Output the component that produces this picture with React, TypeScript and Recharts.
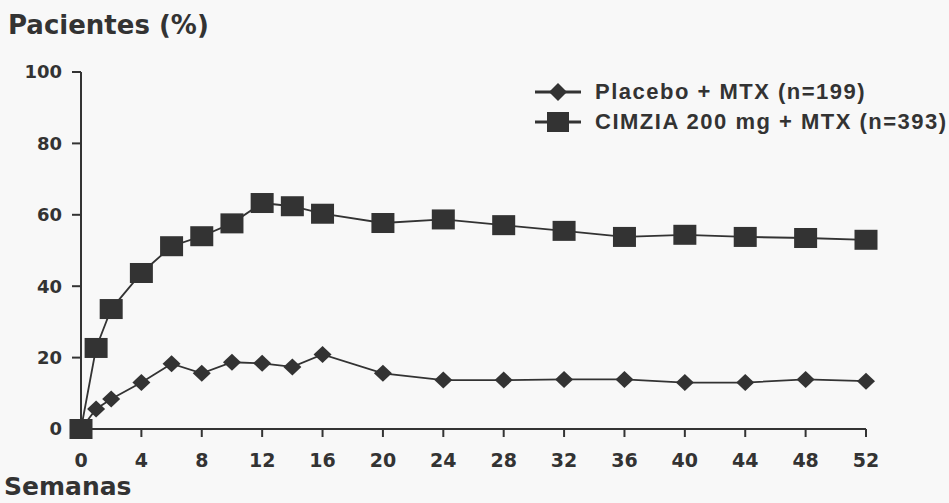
import React from 'react';
import { LineChart, Line, XAxis, YAxis, Legend } from 'recharts';

const weeks = [0, 1, 2, 4, 6, 8, 10, 12, 14, 16, 20, 24, 28, 32, 36, 40, 44, 48, 52];
const placebo = [0, 5.6, 8.4, 13, 18.3, 15.6, 18.7, 18.4, 17.4, 20.9, 15.6, 13.7, 13.7, 13.9, 13.9, 13, 13, 13.9, 13.4];
const cimzia = [0, 22.7, 33.6, 43.7, 51.2, 54, 57.6, 63.3, 62.4, 60.3, 57.7, 58.7, 57.1, 55.5, 53.8, 54.4, 53.8, 53.5, 53];
const xTicks = [0, 4, 8, 12, 16, 20, 24, 28, 32, 36, 40, 44, 48, 52];
const yTicks = [0, 20, 40, 60, 80, 100];
const seriesNames = ['Placebo + MTX (n=199)', 'CIMZIA 200 mg + MTX (n=393)'];
const yTitle = 'Pacientes (%)';
const xTitle = 'Semanas';

const data = weeks.map((w, i) => ({ week: w, placebo: placebo[i], cimzia: cimzia[i] }));

const INK = '#333333';

const Diamond = (props: any) => {
  const { cx, cy } = props;
  if (cx == null || cy == null) return null;
  const hw = 9, hh = 8.5;
  return <polygon key={`d-${cx}`} points={`${cx},${cy - hh} ${cx + hw},${cy} ${cx},${cy + hh} ${cx - hw},${cy}`} fill={INK} />;
};

const Square = (props: any) => {
  const { cx, cy } = props;
  if (cx == null || cy == null) return null;
  const w = 23, h = 20;
  return <rect key={`s-${cx}`} x={cx - w / 2} y={cy - h / 2} width={w} height={h} fill={INK} />;
};

const LegendContent = () => (
  <div style={{ fontFamily: '"Liberation Sans", Arial, sans-serif', fontWeight: 'bold', fontSize: 22, color: INK, letterSpacing: 1.5 }}>
    {seriesNames.map((name, i) => (
      <div key={name} style={{ display: 'flex', alignItems: 'center', height: 30 }}>
        <svg width={50} height={24} style={{ marginRight: 12 }}>
          <line x1={2} y1={12} x2={48} y2={12} stroke={INK} strokeWidth={3} />
          {i === 0 ? (
            <polygon points="25,3 34,12 25,21 16,12" fill={INK} />
          ) : (
            <rect x={14} y={2} width={22} height={20} fill={INK} />
          )}
        </svg>
        <span>{name}</span>
      </div>
    ))}
  </div>
);

export default function App() {
  return (
    <div style={{ position: 'absolute', left: 0, top: 0, width: 949, height: 503, background: '#f8f8f8', overflow: 'hidden' }}>
      <div style={{ position: 'absolute', left: 8, top: 10, fontFamily: '"DejaVu Sans", Verdana, sans-serif', fontWeight: 'bold', fontSize: 26, color: INK, whiteSpace: 'nowrap' }}>
        {yTitle}
      </div>
      <div style={{ position: 'absolute', left: 4, top: 473, fontFamily: '"DejaVu Sans", Verdana, sans-serif', fontWeight: 'bold', fontSize: 25, color: INK, whiteSpace: 'nowrap', lineHeight: '28px' }}>
        {xTitle}
      </div>
      <LineChart width={949} height={503} data={data} margin={{ top: 72, right: 83, bottom: 34, left: 21 }}>
        <XAxis
          dataKey="week"
          type="number"
          domain={[0, 52]}
          ticks={xTicks}
          interval={0}
          height={40}
          stroke={INK}
          strokeWidth={2}
          tickSize={8}
          tickMargin={17}
          tick={{ fill: INK, fontSize: 19, fontWeight: 'bold', fontFamily: '"DejaVu Sans", Verdana, sans-serif' }}
        />
        <YAxis
          type="number"
          domain={[0, 100]}
          ticks={yTicks}
          interval={0}
          width={60}
          stroke={INK}
          strokeWidth={2}
          tickSize={9}
          tickMargin={10}
          tick={{ fill: INK, fontSize: 18, fontWeight: 'bold', fontFamily: '"DejaVu Sans", Verdana, sans-serif' }}
        />
        <Legend
          layout="horizontal"
          verticalAlign="middle"
          align="center"
          content={<LegendContent />}
          wrapperStyle={{ position: 'absolute', left: 533, top: 77, width: 416, height: 60 }}
        />
        <Line
          dataKey="placebo"
          name={seriesNames[0]}
          stroke={INK}
          strokeWidth={1.8}
          dot={<Diamond />}
          activeDot={false}
          isAnimationActive={false}
        />
        <Line
          dataKey="cimzia"
          name={seriesNames[1]}
          stroke={INK}
          strokeWidth={1.8}
          dot={<Square />}
          activeDot={false}
          isAnimationActive={false}
        />
      </LineChart>
    </div>
  );
}
